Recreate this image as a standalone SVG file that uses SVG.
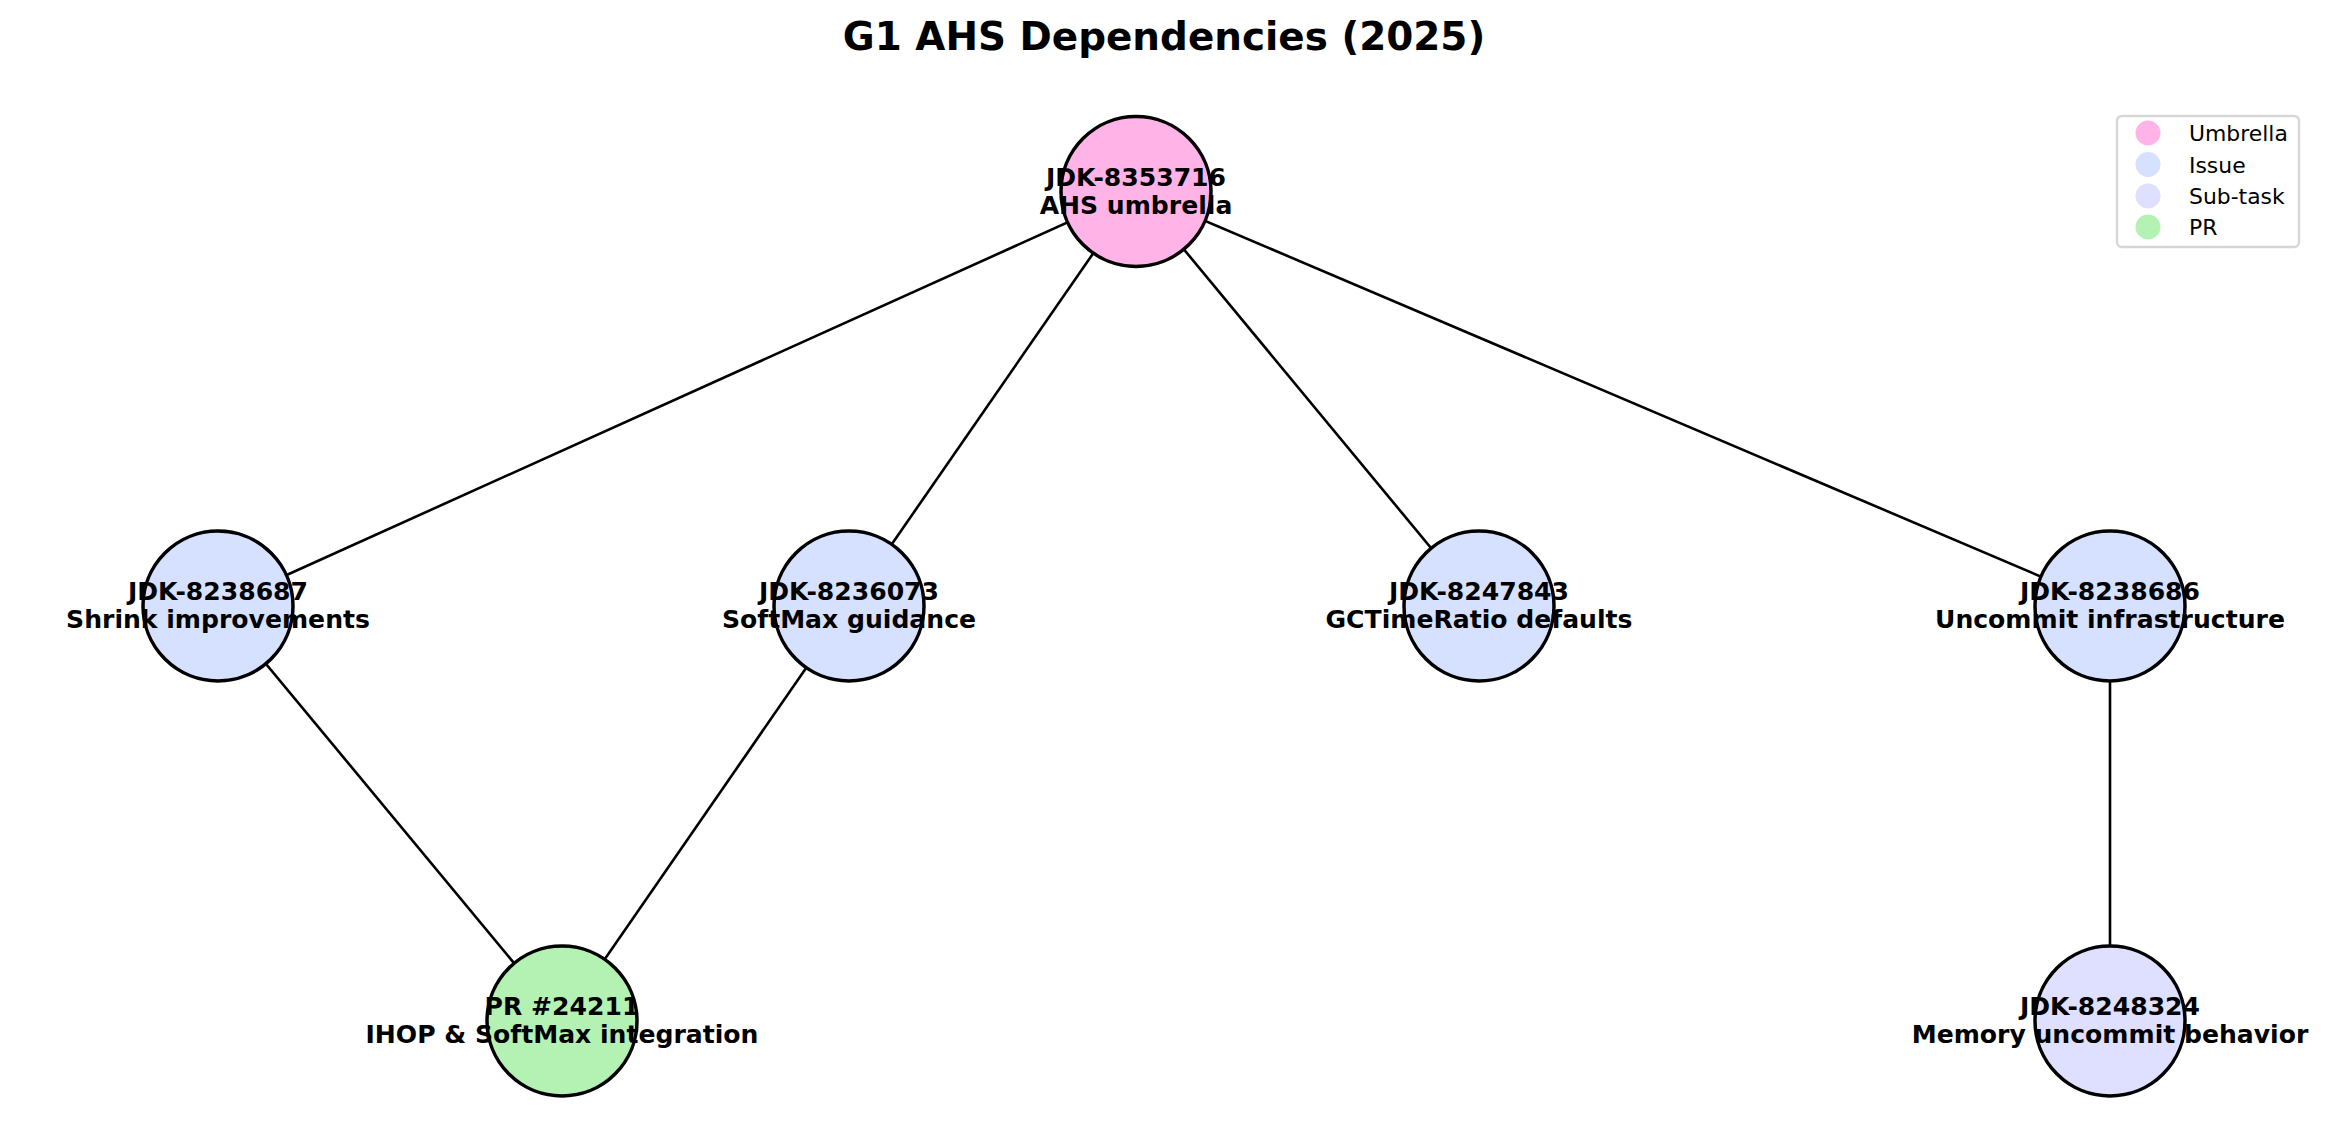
<svg xmlns="http://www.w3.org/2000/svg" width="2328" height="1128" viewBox="0 0 2328 1128">
<style>
.t{font-family:"DejaVu Sans",sans-serif;font-weight:bold;font-size:25.1px;text-anchor:middle;fill:#000}
.n{stroke:#000;stroke-width:3.5}
.e{stroke:#000;stroke-width:2.6;fill:none}
.lg{font-family:"DejaVu Sans",sans-serif;font-size:21.9px;fill:#000}
</style>
<rect width="2328" height="1128" fill="#fff"/>
<text x="1164" y="50" style="font-family:'DejaVu Sans',sans-serif;font-weight:bold;font-size:38.9px;text-anchor:middle">G1 AHS Dependencies (2025)</text>
<g id="edges">
<line class="e" x1="1136" y1="191.5" x2="218" y2="606"/>
<line class="e" x1="1136" y1="191.5" x2="849" y2="606"/>
<line class="e" x1="1136" y1="191.5" x2="1479" y2="606"/>
<line class="e" x1="1136" y1="191.5" x2="2110" y2="606"/>
<line class="e" x1="218" y1="606" x2="562" y2="1021"/>
<line class="e" x1="849" y1="606" x2="562" y2="1021"/>
<line class="e" x1="2110" y1="606" x2="2110" y2="1021"/>
</g>
<g id="n-umbrella"><circle class="n" cx="1136" cy="191.5" r="75" fill="#ffb3e6"/><text class="t" x="1136" y="185.5">JDK-8353716</text><text class="t" x="1136" y="213.5">AHS umbrella</text></g>
<g id="n-8238687"><circle class="n" cx="218" cy="606" r="75" fill="#d6e0ff"/><text class="t" x="218" y="600">JDK-8238687</text><text class="t" x="218" y="628">Shrink improvements</text></g>
<g id="n-8236073"><circle class="n" cx="849" cy="606" r="75" fill="#d6e0ff"/><text class="t" x="849" y="600">JDK-8236073</text><text class="t" x="849" y="628">SoftMax guidance</text></g>
<g id="n-8247843"><circle class="n" cx="1479" cy="606" r="75" fill="#d6e0ff"/><text class="t" x="1479" y="600">JDK-8247843</text><text class="t" x="1479" y="628">GCTimeRatio defaults</text></g>
<g id="n-8238686"><circle class="n" cx="2110" cy="606" r="75" fill="#d6e0ff"/><text class="t" x="2110" y="600">JDK-8238686</text><text class="t" x="2110" y="628">Uncommit infrastructure</text></g>
<g id="n-pr24211"><circle class="n" cx="562" cy="1021" r="75" fill="#b3f2b3"/><text class="t" x="562" y="1015">PR #24211</text><text class="t" x="562" y="1043">IHOP &amp; SoftMax integration</text></g>
<g id="n-8248324"><circle class="n" cx="2110" cy="1021" r="75" fill="#dfdfff"/><text class="t" x="2110" y="1015">JDK-8248324</text><text class="t" x="2110" y="1043">Memory uncommit behavior</text></g>
<g id="legend">
<rect x="2117" y="116" width="182" height="131" rx="5" fill="#fff" fill-opacity="0.8" stroke="#d6d6d6" stroke-width="2.4"/>
<circle cx="2148" cy="133" r="12.5" fill="#ffb3e6"/>
<circle cx="2148" cy="164.5" r="12.5" fill="#d6e0ff"/>
<circle cx="2148" cy="196" r="12.5" fill="#dfdfff"/>
<circle cx="2148" cy="227" r="12.5" fill="#b3f2b3"/>
<text class="lg" x="2189" y="141">Umbrella</text>
<text class="lg" x="2189" y="172.5">Issue</text>
<text class="lg" x="2189" y="204">Sub-task</text>
<text class="lg" x="2189" y="235">PR</text>
</g>
</svg>
